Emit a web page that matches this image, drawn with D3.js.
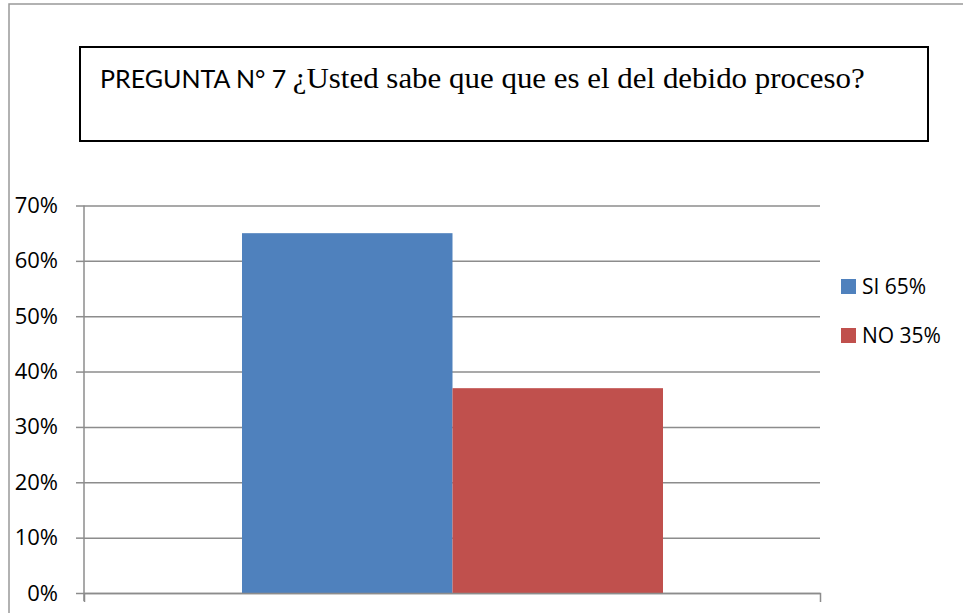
<!DOCTYPE html>
<html>
<head>
<meta charset="utf-8">
<script src="https://cdn.jsdelivr.net/npm/d3@7"></script>
<style>
  body { margin: 0; background: #fff; }
  svg { display: block; }
</style>
</head>
<body>
<svg id="chart" width="963" height="613"></svg>
<script>
var categories = ["SI 65%", "NO 35%"];
var values = [0.65, 0.37];
var colors = ["#4f81bd", "#c0504d"];
var yTicks = [0, 0.1, 0.2, 0.3, 0.4, 0.5, 0.6, 0.7];

var svg = d3.select("#chart");

// outer frame
svg.append("rect")
    .attr("x", 9).attr("y", 4)
    .attr("width", 970).attr("height", 620)
    .attr("fill", "none").attr("stroke", "#999").attr("stroke-width", 1.5);

// title box
svg.append("rect")
    .attr("x", 80).attr("y", 47)
    .attr("width", 848).attr("height", 94)
    .attr("fill", "#fff").attr("stroke", "#000").attr("stroke-width", 2);

var title = svg.append("text")
    .attr("x", 100).attr("y", 88);
title.append("tspan")
    .style("font-family", "Lato, 'Open Sans', sans-serif")
    .style("font-size", "25px")
    .text("PREGUNTA N° 7 ");
title.append("tspan")
    .style("font-family", "'Liberation Serif', 'DejaVu Serif', serif")
    .style("font-size", "30px")
    .attr("textLength", 572)
    .attr("lengthAdjust", "spacingAndGlyphs")
    .text("¿Usted sabe que que es el del debido proceso?");

var margin = { left: 84, right: 820, top: 205.5, bottom: 593 };

var x_scale = d3.scaleBand()
    .domain(categories)
    .range([242, 663])
    .padding(0);

var y_scale = d3.scaleLinear()
    .domain([0, 0.7])
    .range([margin.bottom, margin.top]);

// gridlines
svg.append("g")
    .attr("class", "grid")
    .attr("transform", "translate(" + margin.left + ",0)")
    .call(d3.axisLeft(y_scale).tickValues(yTicks).tickSize(-(margin.right - margin.left)).tickFormat(""))
    .call(function (g) { g.select(".domain").remove(); })
    .call(function (g) { g.selectAll("line").attr("stroke", "#8c8c8c").attr("stroke-width", 1.5); });

// y axis with labels
var yAxis = svg.append("g")
    .attr("class", "yAxis")
    .attr("transform", "translate(" + margin.left + ",0)")
    .call(d3.axisLeft(y_scale).tickValues(yTicks).tickSize(8).tickPadding(18).tickFormat(d3.format(".0%")));
yAxis.select(".domain").attr("stroke", "#8c8c8c").attr("stroke-width", 1.5)
    .attr("d", "M0," + margin.top + "V" + (margin.bottom + 8));
yAxis.selectAll("line").attr("stroke", "#8c8c8c").attr("stroke-width", 1.5);
yAxis.selectAll("text")
    .style("font-family", "'Open Sans', Lato, sans-serif")
    .style("font-size", "22px")
    .attr("fill", "#000");

// bars
svg.append("g")
    .selectAll("rect")
    .data(values)
    .enter().append("rect")
    .attr("x", function (d, i) { return x_scale(categories[i]); })
    .attr("y", function (d) { return y_scale(d); })
    .attr("width", x_scale.bandwidth())
    .attr("height", function (d) { return y_scale(0) - y_scale(d); })
    .attr("fill", function (d, i) { return colors[i]; });

// x axis baseline
svg.append("g")
    .attr("class", "xAxis")
    .attr("transform", "translate(0," + margin.bottom + ")")
    .call(d3.axisBottom(d3.scaleLinear().range([margin.left, margin.right])).tickValues([]).tickSizeOuter(9))
    .call(function (g) { g.select(".domain").attr("stroke", "#8c8c8c").attr("stroke-width", 1.5); });

// legend
var legend = svg.append("g")
    .selectAll("g")
    .data(categories)
    .enter().append("g")
    .attr("transform", function (d, i) { return "translate(841," + (279 + i * 49) + ")"; });
legend.append("rect")
    .attr("width", 15).attr("height", 15)
    .attr("fill", function (d, i) { return colors[i]; });
legend.append("text")
    .attr("x", 21).attr("y", 15)
    .style("font-family", "'Open Sans', Lato, sans-serif")
    .style("font-size", "21px")
    .text(function (d) { return d; });
</script>
</body>
</html>
